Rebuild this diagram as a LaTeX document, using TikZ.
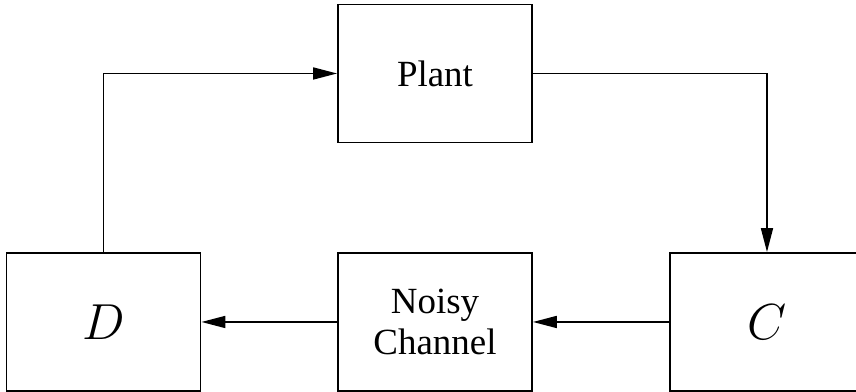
\documentclass[tikz,border=0pt]{standalone}
\usepackage{fontspec}
\setmainfont{Liberation Serif}
\usepackage{amsmath}
\usetikzlibrary{arrows.meta}

\begin{document}
\begin{tikzpicture}[x=0.01cm, y=-0.01cm, line width=0.5pt,
  >={Triangle[length=6.8pt,width=3.4pt]},
  block/.style={rectangle, draw, minimum width=1.94cm, minimum height=1.38cm,
    align=center, font=\fontsize{10.5}{11.9}\selectfont},
  letter/.style={font=\fontsize{14}{16}\selectfont}]
\useasboundingbox (0,0) rectangle (856,392);

\node [block] (plant) at (435,73.5) {Plant};
\node [block, letter] (dec) at (103.5,322) {$D$};
\node [block] (chan) at (435,322) {Noisy\\Channel};
\node [block, letter] (enc) at (767,322) {$C$};

\draw[->] (dec.north) |- (plant.west);
\draw[->] (plant.east) -| (enc.north);
\draw[->] (enc.west) -- (chan.east);
\draw[->] (chan.west) -- (dec.east);
\end{tikzpicture}
\end{document}
